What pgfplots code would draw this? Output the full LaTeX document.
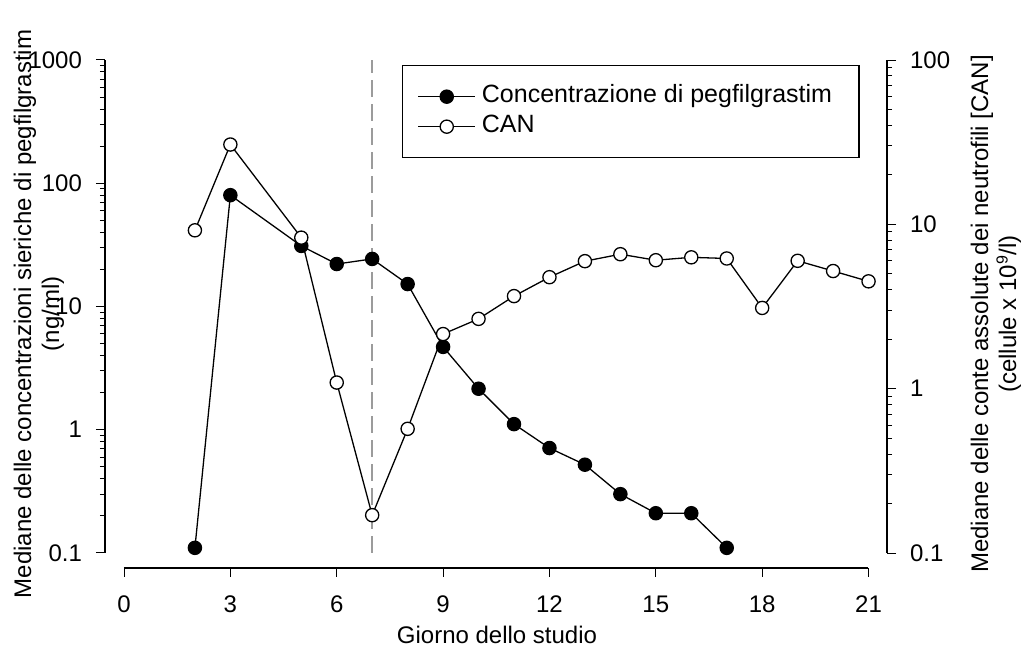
\documentclass[border=0pt]{standalone}
\usepackage{fontspec}
\setmainfont{Liberation Sans}
\usepackage{pgfplots}
\pgfplotsset{compat=1.18}
\definecolor{dashgray}{RGB}{155,155,155}
\pgfplotsset{
  mycommonaxis/.style={
    scale only axis, width=391pt, height=254pt,
    xmin=-0.536, xmax=21.52,
    font=\fontsize{12}{14}\selectfont,
    tick label style={font=\fontsize{12}{14}\selectfont},
    tick align=outside, major tick length=4.5pt, minor tick length=2.5pt,
    tick style={black, line width=0.5pt},
    clip=false,
  }
}
\begin{document}
\begin{tikzpicture}
\useasboundingbox (-52.5pt,-39pt) rectangle (460pt,284pt);
\begin{axis}[mycommonaxis, ymode=log,
  ymin=0.0755, ymax=1000,
  axis x line*=bottom, axis y line*=left,
  x axis line style={-, line width=0.8pt, shorten <=9.5pt, shorten >=9.25pt},
  y axis line style={-, line width=0.8pt, shorten <=7.5pt},
  xtick={0,3,6,9,12,15,18,21},
  xticklabels={0,3,6,9,12,15,18,21},
  xticklabel style={yshift=-6pt},
  yticklabel style={xshift=-3.5pt},
  ytick={0.1,1,10,100,1000}, yticklabels={0.1,1,10,100,1000},
  minor ytick={0.2,0.3,0.4,0.5,0.6,0.7,0.8,0.9,2,3,4,5,6,7,8,9,20,30,40,50,60,70,80,90,200,300,400,500,600,700,800,900},
  every axis x label/.style={at={(axis description cs:0.5013,-0.1319)}, anchor=center},
  xlabel={Giorno dello studio},
  every axis y label/.style={at={(axis description cs:-0.0844,0.5)}, rotate=90, anchor=center, align=center},
  ylabel={Mediane delle concentrazioni sieriche di pegfilgrastim\\(ng/ml)},
  legend style={at={(0.3798,0.990)}, anchor=north west, draw=black, line width=0.6pt,
    inner xsep=7.5pt, inner ysep=8pt, row sep=0pt, column sep=1.5pt,
    nodes={inner sep=1.5pt, text height=9pt, text depth=3pt},
    font=\fontsize{12.5}{14}\selectfont, cells={anchor=west}},
  legend image code/.code={\draw[mark repeat=2,mark phase=2,#1] plot coordinates {(0pt,0pt)(14.25pt,0pt)(28.5pt,0pt)};},
]
\addplot[dashgray, line width=0.7pt, dash pattern=on 8.5pt off 3.5pt, forget plot] coordinates {(7,0.1) (7,1000)};
\addplot[black, line width=0.65pt, mark=*, mark size=3.3pt, mark options={fill=black, solid}] coordinates {
(2,0.11)(3,80)(5,31)(6,22.1)(7,24.3)(8,15.2)(9,4.7)(10,2.15)(11,1.11)(12,0.71)(13,0.52)(14,0.30)(15,0.21)(16,0.21)(17,0.11)};
\addlegendentry{Concentrazione di pegfilgrastim\hspace*{4.5pt}}
\addlegendimage{black, line width=0.65pt, mark=*, mark size=3.3pt, mark options={fill=white, solid}}
\addlegendentry{CAN}
\end{axis}
\begin{axis}[mycommonaxis, ymode=log,
  ymin=0.0811, ymax=100,
  axis x line=none, axis y line*=right,
  y axis line style={-, line width=0.8pt, shorten <=7.5pt},
  yticklabel style={xshift=3.5pt},
  ytick={0.1,1,10,100}, yticklabels={0.1,1,10,100},
  minor ytick={0.2,0.3,0.4,0.5,0.6,0.7,0.8,0.9,2,3,4,5,6,7,8,9,20,30,40,50,60,70,80,90},
  every axis y label/.style={at={(axis description cs:1.1394,0.5)}, rotate=90, anchor=center, align=center},
  ylabel={Mediane delle conte assolute dei neutrofili [CAN]\\(cellule x 10\textsuperscript{9}/l)},
]
\addplot[black, line width=0.65pt, mark=*, mark size=3.3pt, mark options={fill=white, solid}] coordinates {
(2,9.2)(3,30.6)(5,8.3)(6,1.09)(7,0.17)(8,0.57)(9,2.15)(10,2.66)(11,3.66)(12,4.77)(13,5.97)(14,6.58)(15,6.05)(16,6.3)(17,6.2)(18,3.1)(19,6.0)(20,5.2)(21,4.5)};
\end{axis}
\end{tikzpicture}
\end{document}
